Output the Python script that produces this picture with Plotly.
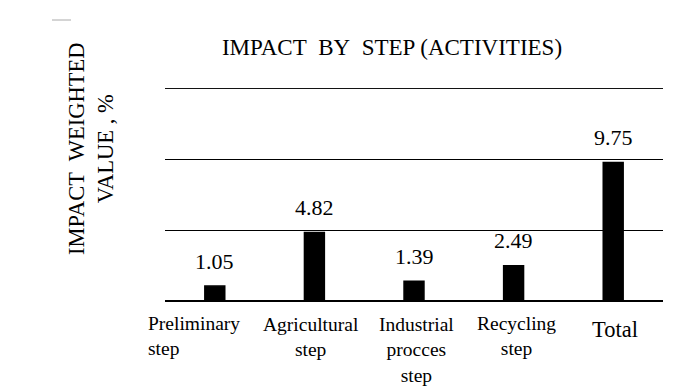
import plotly.graph_objects as go

categories = ["Preliminary<br>step", "Agricultural<br>step", "Industrial<br>procces<br>step", "Recycling<br>step", "Total"]
values = [1.05, 4.82, 1.39, 2.49, 9.75]
value_labels = ["1.05", "4.82", "1.39", "2.49", "9.75"]
title_text = "IMPACT\u00a0 BY\u00a0 STEP (ACTIVITIES)"
y_title = "IMPACT\u00a0 WEIGHTED<br>VALUE , %"

FONT = "Liberation Serif, Times New Roman, serif"

# per-label styling (not data)
cat_style = [
    dict(xanchor="left", xshift=-69, align="left", size=19.5, yshift=-10),
    dict(xanchor="center", xshift=-3, align="center", size=19.5, yshift=-11),
    dict(xanchor="center", xshift=2, align="center", size=19.5, yshift=-11),
    dict(xanchor="center", xshift=3, align="center", size=19.5, yshift=-10),
    dict(xanchor="center", xshift=2, align="center", size=22.5, yshift=-14),
]

fig = go.Figure()
fig.add_trace(go.Bar(
    x=list(range(len(categories))),
    y=values,
    width=0.2,
    marker=dict(color="black", line=dict(color="black", width=1.5)),
    hoverinfo="skip",
))

for i, (v, t) in enumerate(zip(values, value_labels)):
    fig.add_annotation(x=i, y=v, xref="x", yref="y", text=t, showarrow=False,
                       yanchor="middle", yshift=25,
                       font=dict(family=FONT, size=22, color="black"))

for i, (c, s) in enumerate(zip(categories, cat_style)):
    fig.add_annotation(x=i, y=0, xref="x", yref="y", text=c, showarrow=False,
                       xanchor=s["xanchor"], xshift=s["xshift"], align=s["align"],
                       yanchor="top", yshift=s["yshift"],
                       font=dict(family=FONT, size=s["size"], color="black"))

fig.add_annotation(x=-0.1486, y=0.718, xref="paper", yref="paper", text=y_title,
                   showarrow=False, textangle=-90, xanchor="center", yanchor="middle",
                   align="center", font=dict(family=FONT, size=22.5, color="black"))

# top gridline at the plot edge
fig.add_shape(type="line", xref="paper", yref="y", x0=0, x1=1, y0=14.97, y1=14.97,
              line=dict(color="black", width=1), layer="below")

# small gray mark at top-left
fig.add_shape(type="line", xref="paper", yref="paper",
              x0=(52 - 165) / 498, x1=(71 - 165) / 498,
              y0=(301 - 20) / 213, y1=(301 - 20) / 213,
              line=dict(color="#aaaaaa", width=1))

fig.update_layout(
    width=681, height=392,
    margin=dict(l=165, r=18, t=88, b=91),
    paper_bgcolor="white", plot_bgcolor="white",
    showlegend=False,
    title=dict(text=title_text, x=392 / 681, y=1 - 47 / 392, xref="container", yref="container",
               xanchor="center", yanchor="middle",
               font=dict(family=FONT, size=23, color="black")),
    xaxis=dict(range=[-0.5, 4.5], showticklabels=False, showgrid=False, zeroline=False,
               showline=False, ticks="", fixedrange=True),
    yaxis=dict(range=[0, 15], dtick=5, tick0=0, showticklabels=False, showgrid=True,
               gridcolor="black", gridwidth=1, zeroline=True, zerolinecolor="black",
               zerolinewidth=1.5, showline=False, ticks="", fixedrange=True),
)

fig.write_html("out.html", config={"displayModeBar": False},
               post_script="document.body.style.margin='0px';")
